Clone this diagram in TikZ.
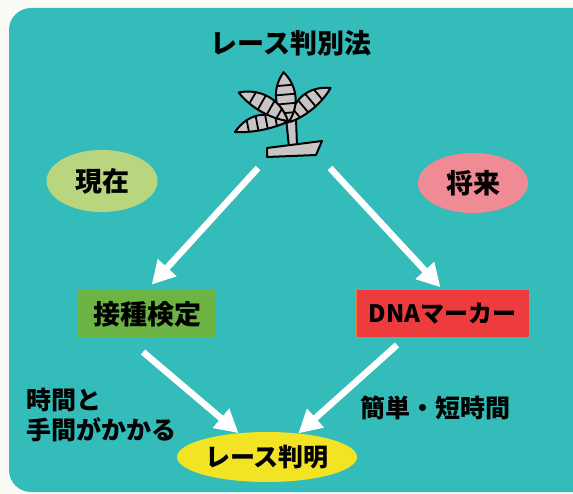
\documentclass[tikz,border=0pt]{standalone}
\usepackage{fontspec}
\setmainfont{Noto Sans CJK JP}
\usetikzlibrary{shapes.geometric,arrows.meta}

\definecolor{paper}{HTML}{FBFBF5}
\definecolor{bgteal}{HTML}{33BCBA}
\definecolor{nowgreen}{HTML}{B9D67F}
\definecolor{futpink}{HTML}{F08B95}
\definecolor{boxgreen}{HTML}{6CB544}
\definecolor{boxred}{HTML}{EE3B3E}
\definecolor{boxedge}{HTML}{F37A3A}
\definecolor{hanyellow}{HTML}{F2E424}
\definecolor{leafgray}{HTML}{C9C5C6}

\begin{document}
\begin{tikzpicture}
	[x=1pt,y=-1pt,
	every node/.style={inner sep=0pt,font=\fontsize{25}{30}\selectfont\bfseries},
	oval/.style={shape=ellipse},
	box/.style={shape=rectangle,minimum height=48pt},
	bigarrow/.style={-{Triangle[width=24pt,length=23pt]},line width=6.5pt,draw=white},
	plantpart/.style={fill=leafgray,draw=black,line width=2pt,line join=round},
	stripe/.style={draw=black,line width=1.8pt}]
	\useasboundingbox (0,0) rectangle (573,494);
	\fill[paper] (0,0) rectangle (573,494);
	\begin{scope}
		\clip (0,0) rectangle (573,494);
		\fill[bgteal,rounded corners=22pt] (9,8) rectangle (620,492);
	\end{scope}
	% the little plant: stem, foot, then the leaves
	\draw[plantpart] (286,118) -- (296,118) -- (297,146) -- (289,147) -- cycle;
	\draw[plantpart] (267,148) -- (322,141) -- (316,155) -- (267,157) -- cycle;
	\foreach \ang/\len/\wid/\bend/\bx/\by in {191/53/10/6/287/122,40/53/11/-5/290/122,
		95/51/13/0/288/123,150/57/11/4/288/121}
	{
		\begin{scope}[shift={(\bx,\by)},rotate=\ang]
			\draw[plantpart] (0,0) .. controls (0.3*\len,\wid+\bend) and (0.7*\len,\wid+\bend) .. (\len,0)
			.. controls (0.7*\len,-\wid+\bend) and (0.3*\len,-\wid+\bend) .. (0,0);
			\begin{scope}
				\clip (0,0) .. controls (0.3*\len,\wid+\bend) and (0.7*\len,\wid+\bend) .. (\len,0)
				.. controls (0.7*\len,-\wid+\bend) and (0.3*\len,-\wid+\bend) .. (0,0);
				\foreach \k in {0.2,0.38,0.56,0.74}
				\draw[stripe] (\k*\len,-20) -- (\k*\len,20);
			\end{scope}
		\end{scope}
	}
	\node[font=\fontsize{27}{30}\selectfont\bfseries] (title) at (291,43) {レース判別法};
	\node[oval,fill=nowgreen,minimum width=111pt,minimum height=62pt,
		font=\fontsize{27}{30}\selectfont\bfseries] (genzai) at (102,181) {現在};
	\node[oval,fill=futpink,minimum width=110pt,minimum height=60pt,
		font=\fontsize{27}{30}\selectfont\bfseries] (shorai) at (473,183) {将来};
	\node[box,fill=boxgreen,minimum width=138pt,
		font=\fontsize{27}{30}\selectfont\bfseries] (kenTei) at (147,314) {接種検定};
	\node[box,fill=boxred,draw=boxedge,line width=1pt,minimum width=173pt,
		font=\fontsize{24}{30}\selectfont\bfseries] (dna) at (442.5,314) {DNAマーカー};
	\node[oval,fill=hanyellow,minimum width=180pt,minimum height=50pt] (hanmei) at (267,457) {レース判明};
	\node[align=left,anchor=west] (slow) at (26,415) {時間と\\手間がかかる};
	\node (fast) at (435,408) {簡単・短時間};
	\coordinate (tailL) at (258,168);
	\coordinate (tailR) at (330,168);
	\coordinate (tailBL) at (143,352);
	\coordinate (tailBR) at (397,345);
	\draw[bigarrow,shorten >=7pt] (tailL) -- (kenTei.north);
	\draw[bigarrow,shorten >=3pt] (tailR) -- (dna.north);
	\draw[bigarrow] (tailBL) -- (hanmei.140);
	\draw[bigarrow] (tailBR) -- (hanmei.37);
\end{tikzpicture}
\end{document}
